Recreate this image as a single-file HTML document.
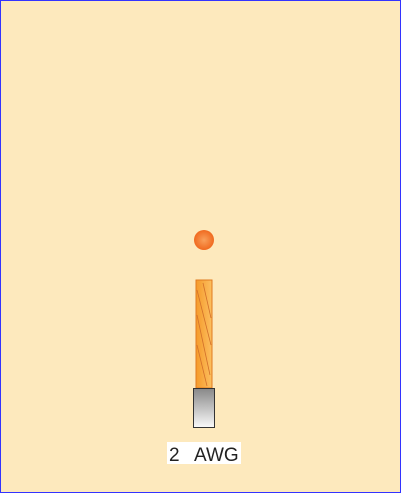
<!DOCTYPE html>
<html><head><style>
body{margin:0;width:401px;height:493px;overflow:hidden;background:#fde9bd}
</style></head><body>
<svg width="401" height="493" style="position:absolute;left:0;top:0">
<defs>
<linearGradient id="cu" x1="0" x2="1"><stop offset="0" stop-color="#f59a2a"/><stop offset="1" stop-color="#fcbf60"/></linearGradient>
<linearGradient id="ins" x1="0" y1="0" x2="0" y2="1"><stop offset="0" stop-color="#888"/><stop offset="1" stop-color="#fafafa"/></linearGradient>
<radialGradient id="dot"><stop offset="0" stop-color="#f9a05a"/><stop offset="1" stop-color="#f06a20"/></radialGradient>
</defs>
<rect x="0.5" y="0.5" width="400" height="492" fill="#fde9bd" stroke="#3333ff"/>
<circle cx="204" cy="240" r="10" fill="url(#dot)"/>
<rect x="196" y="280" width="16" height="108" fill="url(#cu)" stroke="#e07a20"/>
<g stroke="#d2702a" stroke-width="0.8">
<line x1="197" y1="290" x2="211" y2="345"/><line x1="197" y1="315" x2="210" y2="375"/><line x1="197" y1="345" x2="207" y2="386"/><line x1="203" y1="283" x2="211" y2="318"/>
</g>
<rect x="193.5" y="388.5" width="21" height="39" fill="url(#ins)" stroke="#333"/>
<rect x="167" y="442" width="74" height="22" fill="#fff"/>
<text x="169" y="461" font-family="Liberation Sans, sans-serif" font-size="19" fill="#222"><tspan>2</tspan><tspan x="194">AWG</tspan></text>
</svg>
</body></html>
